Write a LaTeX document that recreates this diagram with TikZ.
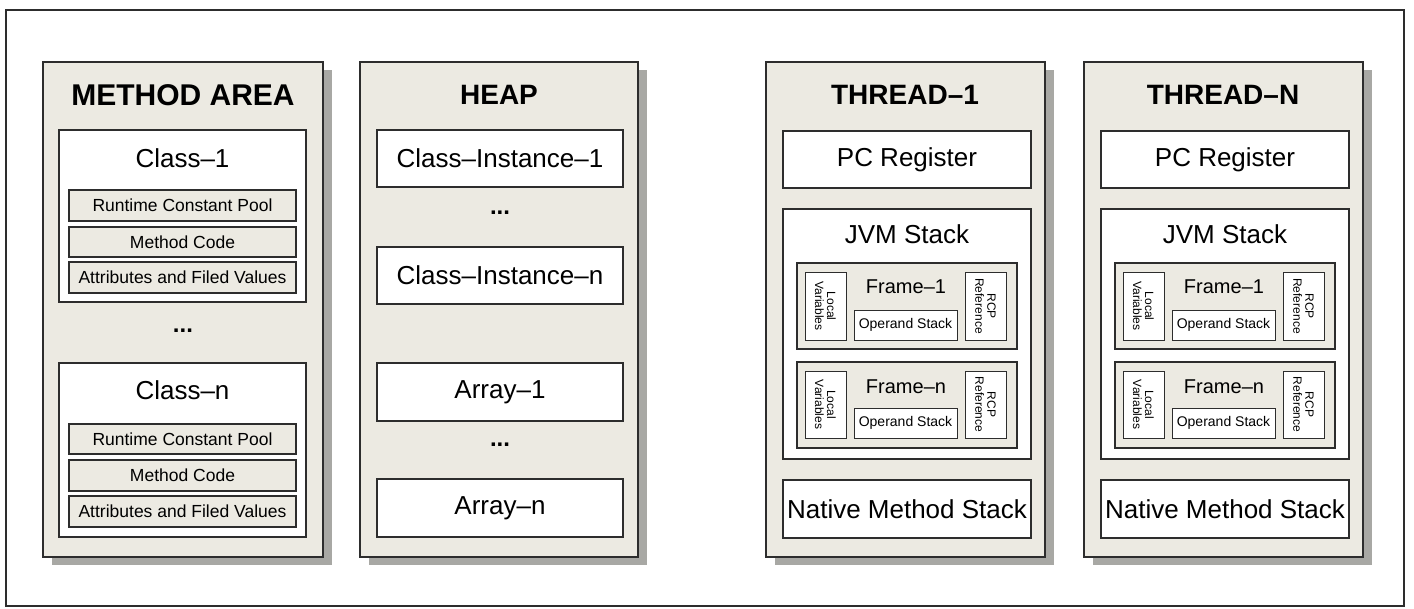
\documentclass[tikz,border=0pt]{standalone}
\usepackage{fontspec}
\setmainfont{Liberation Sans}
\usetikzlibrary{shadows}
\definecolor{panelgray}{RGB}{236,234,226}
\definecolor{shadowgray}{RGB}{168,168,164}
\definecolor{edge}{RGB}{45,45,45}
\newcommand\fs[1]{\fontsize{#1}{#1}\selectfont}
% name, style, x1, y1, x2, y2, text
\newcommand\rbox[7]{\node[#2, anchor=north west, minimum width={(#5-#3)*1pt}, minimum height={(#6-#4)*1pt}] (#1) at (#3,#4) {#7};}
\tikzset{
  panel/.style={draw=edge, line width=1.3pt, fill=panelgray, inner sep=0pt, outer sep=0pt,
    drop shadow={shadow xshift=9pt, shadow yshift=-8pt, fill=shadowgray, opacity=1}},
  whitebox/.style={draw=edge, line width=1.2pt, fill=white, inner sep=0pt, outer sep=0pt, font=\fs{26}},
  graybox/.style={draw=edge, line width=1.1pt, fill=panelgray, inner sep=0pt, outer sep=0pt, font=\fs{17.5}},
  framebox/.style={draw=edge, line width=1.1pt, fill=panelgray, inner sep=0pt, outer sep=0pt},
  smallbox/.style={draw=edge, line width=1pt, fill=white, inner sep=0pt, outer sep=0pt, font=\fs{14}},
  ptitle/.style={font=\bfseries\fs{28}, inner sep=0pt},
  btitle/.style={font=\fs{26}, inner sep=0pt},
  ftitle/.style={font=\fs{20}, inner sep=0pt},
  rottext/.style={font=\fs{12}, rotate=-90, align=center, inner sep=0pt},
  dots/.style={font=\bfseries\fs{24}, inner sep=0pt},
}
\newcommand\mythread[3]{%
  \begin{scope}[xshift=#2pt]
    \rbox{#1panel}{panel}{766}{62}{1045}{557}{}
    \node[ptitle] (#1title) at (905,95) {#3};
    \rbox{#1pc}{whitebox}{783}{131}{1031}{188}{PC Register}
    \rbox{#1jvm}{whitebox}{783}{209}{1031}{459}{}
    \node[btitle] (#1jvmtitle) at (907,234) {JVM Stack};
    \rbox{#1fa}{framebox}{797}{263}{1017}{349}{}
    \node[ftitle] (#1fatitle) at (906,287) {Frame–1};
    \rbox{#1falv}{smallbox}{805}{272}{846}{340}{}
    \node[rottext] (#1falvt) at (#1falv.center) {Local\\Variables};
    \rbox{#1faos}{smallbox}{854}{310}{957}{340}{Operand Stack}
    \rbox{#1farc}{smallbox}{965}{272}{1006}{340}{}
    \node[rottext] (#1farct) at (#1farc.center) {RCP\\Reference};
    \rbox{#1fb}{framebox}{797}{362}{1017}{448}{}
    \node[ftitle] (#1fbtitle) at (906,387) {Frame–n};
    \rbox{#1fblv}{smallbox}{805}{371}{846}{438}{}
    \node[rottext] (#1fblvt) at (#1fblv.center) {Local\\Variables};
    \rbox{#1fbos}{smallbox}{854}{408}{957}{438}{Operand Stack}
    \rbox{#1fbrc}{smallbox}{965}{371}{1006}{438}{}
    \node[rottext] (#1fbrct) at (#1fbrc.center) {RCP\\Reference};
    \rbox{#1nat}{whitebox}{783}{480}{1031}{538}{Native Method Stack}
  \end{scope}}
\begin{document}
\begin{tikzpicture}[x=1pt, y=-1pt]
  \useasboundingbox (0,0) rectangle (1414,608);
  \draw[edge, line width=1.3pt] (6,10) rectangle (1404,606);
  % METHOD AREA
  \rbox{ma}{panel}{43}{62}{323}{557}{}
  \node[ptitle, font=\bfseries\fs{30}] (matitle) at (183,95) {METHOD AREA};
  \rbox{c1}{whitebox}{59}{130}{306}{302}{}
  \node[btitle] (c1title) at (182.5,158) {Class–1};
  \rbox{c1a}{graybox}{69}{190}{296}{221}{Runtime Constant Pool}
  \rbox{c1b}{graybox}{69}{227}{296}{257}{Method Code}
  \rbox{c1c}{graybox}{69}{262}{296}{293}{Attributes and Filed Values}
  \node[dots] (madots) at (183,331) {...};
  \rbox{cn}{whitebox}{59}{363}{306}{537}{}
  \node[btitle] (cntitle) at (182.5,390) {Class–n};
  \rbox{cna}{graybox}{69}{424}{296}{454}{Runtime Constant Pool}
  \rbox{cnb}{graybox}{69}{460}{296}{491}{Method Code}
  \rbox{cnc}{graybox}{69}{496}{296}{527}{Attributes and Filed Values}
  % HEAP
  \rbox{hp}{panel}{360}{62}{638}{557}{}
  \node[ptitle] (hptitle) at (499,95) {HEAP};
  \rbox{ci1}{whitebox}{377}{130}{623}{187}{Class–Instance–1}
  \node[dots] (hpdots1) at (500,213) {...};
  \rbox{cin}{whitebox}{377}{247}{623}{304}{Class–Instance–n}
  \rbox{ar1}{whitebox}{377}{363}{623}{421}{Array–1}
  \node[dots] (hpdots2) at (500,445) {...};
  \rbox{arn}{whitebox}{377}{479}{623}{537}{Array–n}
  % THREADS
  \mythread{ta}{0}{THREAD–1}
  \mythread{tb}{318}{THREAD–N}
\end{tikzpicture}
\end{document}
